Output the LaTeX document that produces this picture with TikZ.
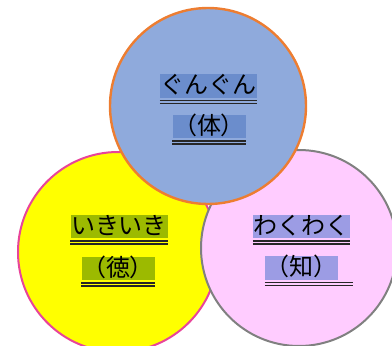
\documentclass[tikz,border=0pt]{standalone}
\usepackage{fontspec}
\newfontfamily\jpfont{Noto Sans CJK JP}
\usepackage{tikz}
\usetikzlibrary{calc,positioning}
\definecolor{taiFill}{HTML}{8FAADC}
\definecolor{taiLine}{HTML}{ED7D31}
\definecolor{taiMark}{HTML}{6B8DCC}
\definecolor{tokuFill}{HTML}{FFFF00}
\definecolor{tokuLine}{HTML}{E8449A}
\definecolor{tokuMark}{HTML}{9CBA00}
\definecolor{chiFill}{HTML}{FFCCFF}
\definecolor{chiLine}{HTML}{808080}
\definecolor{chiMark}{HTML}{9C9CE4}
\tikzset{
    mycircle/.style={circle,inner sep=0pt,minimum size=196pt,line width=2pt},
    mylabel/.style={inner xsep=0.5pt,inner ysep=0pt,text height=19.5pt,text depth=4pt,
      font=\jpfont\fontsize{24}{24}\selectfont},
    myuline/.style={line width=1.3pt,draw=black!85}
}

\begin{document}
\begin{tikzpicture}[x=1pt,y=-1pt]
  \useasboundingbox (0,0) rectangle (392,346);

  % 三つの円：徳・知・体
  \node[mycircle,fill=tokuFill,draw=tokuLine,minimum size=200pt] (toku) at (118,252) {};
  \node[mycircle,fill=chiFill,draw=chiLine] (chi) at (299,248) {};
  \node[mycircle,fill=taiFill,draw=taiLine,line width=2.4pt] (tai) at (208,106) {};

  % 文字（マーカー付き）
  \node[mylabel,fill=taiMark]  (taiA)  at (208.5,86)  {ぐんぐん};
  \node[mylabel,fill=taiMark]  (taiB)  at (209,126.5) {（体）};
  \node[mylabel,fill=tokuMark] (tokuA) at (119,226.5) {いきいき};
  \node[mylabel,fill=tokuMark] (tokuB) at (118,268.5) {（徳）};
  \node[mylabel,fill=chiMark]  (chiA)  at (301.5,226.5) {わくわく};
  \node[mylabel,fill=chiMark]  (chiB)  at (301.5,268) {（知）};

  % 二重下線
  \foreach \N in {taiA,taiB,tokuA,tokuB,chiA}{
    \draw[myuline] ([yshift=-2.5pt]\N.south west) -- ([yshift=-2.5pt]\N.south east);
    \draw[myuline] ([yshift=-5.5pt]\N.south west) -- ([yshift=-5.5pt]\N.south east);
  }
  \coordinate (chiEnd) at (353,280);
  \draw[myuline] ([yshift=-2.5pt]chiB.south west) -- ([yshift=-2.5pt]chiB.south west -| chiEnd);
  \draw[myuline] ([yshift=-5.5pt]chiB.south west) -- ([yshift=-5.5pt]chiB.south west -| chiEnd);
\end{tikzpicture}
\end{document}
